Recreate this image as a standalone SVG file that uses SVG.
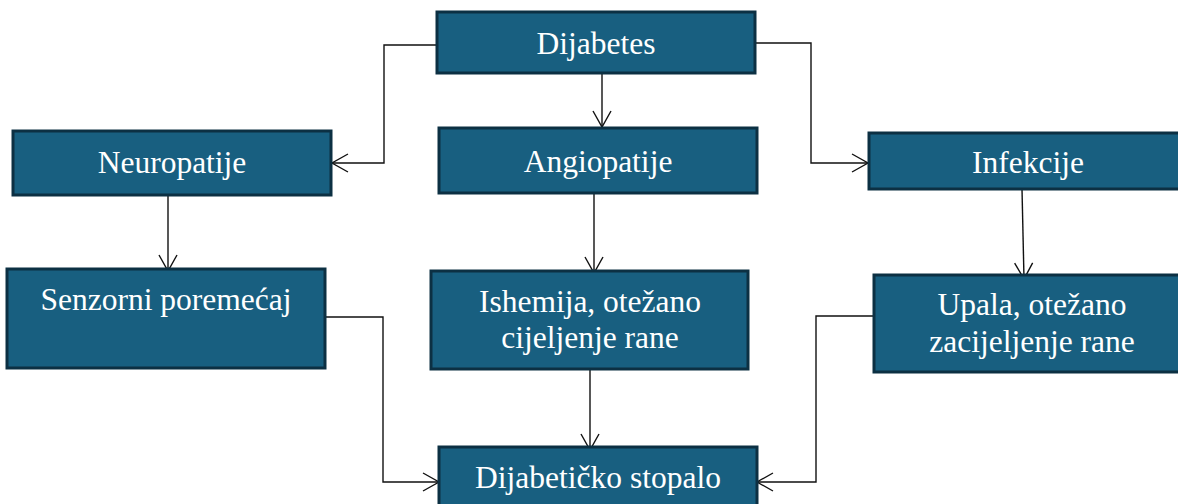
<svg xmlns="http://www.w3.org/2000/svg" width="1178" height="504" viewBox="0 0 1178 504">
<style>
.box{fill:#185f80;stroke:#0c3043;stroke-width:3}
.t{font-family:'Liberation Serif','DejaVu Serif',serif;font-size:31.5px;fill:#ffffff;text-anchor:middle}
.c{fill:none;stroke:#111;stroke-width:1.4}
</style>
<defs>
<marker id="arr" markerUnits="userSpaceOnUse" markerWidth="20" markerHeight="22" viewBox="-18 -11 20 22" refX="0" refY="0" orient="auto">
<path d="M-16,-9 L0,0 L-16,9" fill="none" stroke="#111" stroke-width="1.4"/>
</marker>
</defs>
<rect width="1178" height="504" fill="#ffffff"/>
<g id="connectors">
<path class="c" d="M437,45 H384 V163 H332" marker-end="url(#arr)"/>
<path class="c" d="M602,73 V127" marker-end="url(#arr)"/>
<path class="c" d="M755,43 H811 V163 H868" marker-end="url(#arr)"/>
<path class="c" d="M168,195 V271" marker-end="url(#arr)"/>
<path class="c" d="M594,193 V273" marker-end="url(#arr)"/>
<path class="c" d="M1022,189 L1024,279" marker-end="url(#arr)"/>
<path class="c" d="M590,369 V450" marker-end="url(#arr)"/>
<path class="c" d="M325,317 H383 V482 H439" marker-end="url(#arr)"/>
<path class="c" d="M874,316 H816 V482 H757" marker-end="url(#arr)"/>
</g>
<g id="dijabetes"><rect class="box" x="437" y="12" width="318" height="61"/><text class="t" x="596" y="54" font-family="Liberation Serif, serif">Dijabetes</text></g>
<g id="neuropatije"><rect class="box" x="13" y="131" width="318" height="64"/><text class="t" x="172" y="173">Neuropatije</text></g>
<g id="angiopatije"><rect class="box" x="439" y="128" width="318" height="65"/><text class="t" x="598" y="172">Angiopatije</text></g>
<g id="infekcije"><rect class="box" x="869" y="133" width="318" height="56"/><text class="t" x="1028" y="173">Infekcije</text></g>
<g id="senzorni"><rect class="box" x="7" y="269" width="318" height="99"/><text class="t" x="166" y="310">Senzorni poremećaj</text></g>
<g id="ishemija"><rect class="box" x="431" y="271" width="317" height="98"/><text class="t" x="590" y="312">Ishemija, otežano</text><text class="t" x="590" y="348">cijeljenje rane</text></g>
<g id="upala"><rect class="box" x="874" y="275" width="318" height="97"/><text class="t" x="1032" y="315">Upala, otežano</text><text class="t" x="1032" y="352">zacijeljenje rane</text></g>
<g id="stopalo"><rect class="box" x="439" y="447" width="318" height="70"/><text class="t" x="598" y="488">Dijabetičko stopalo</text></g>
</svg>
